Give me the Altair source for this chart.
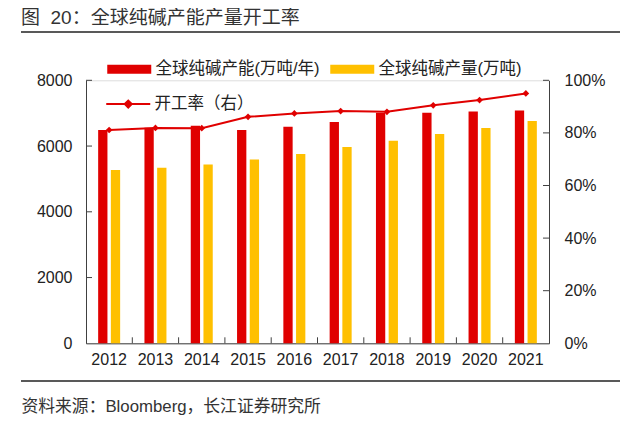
import altair as alt
import pandas as pd

# ---- data ----
years = ["2012", "2013", "2014", "2015", "2016", "2017", "2018", "2019", "2020", "2021"]
capacity = [6490, 6560, 6620, 6490, 6590, 6730, 7010, 7010, 7050, 7080]
production = [5270, 5340, 5440, 5590, 5760, 5970, 6160, 6370, 6550, 6760]
rate = [0.811, 0.819, 0.818, 0.861, 0.874, 0.883, 0.880, 0.905, 0.925, 0.950]
series = ["全球纯碱产能(万吨/年)", "全球纯碱产量(万吨)"]
line_label = "开工率（右）"
left_ticks = [2000, 4000, 6000, 8000]
right_ticks = [0.2, 0.4, 0.6, 0.8, 1.0]
title_text = "图\u00a0\u00a020：全球纯碱产能产量开工率"
source_text = "资料来源：Bloomberg，长江证券研究所"

RED = "#E00000"
YELLOW = "#FFC000"
AXIS = "#404040"
TEXT = "#222222"
FONT = "Liberation Sans, Arial, Noto Sans CJK SC, sans-serif"

W, H = 463, 263

bar_df = pd.DataFrame({
    "year": years * 2,
    "series": [series[0]] * len(years) + [series[1]] * len(years),
    "value": capacity + production,
})
rate_df = pd.DataFrame({"year": years, "rate": rate, "label": [line_label] * len(years)})
lt_df = pd.DataFrame({"value": left_ticks})
rt_df = pd.DataFrame({"rate": right_ticks})
xt_df = pd.DataFrame({"year": years[1:]})
one_df = pd.DataFrame({"k": [0]})

xscale = alt.Scale(domain=years, paddingInner=0, paddingOuter=0)
xaxis = alt.Axis(title=None, ticks=False, tickSize=0, labelPadding=8, labelFontSize=16,
                 labelFont=FONT, labelColor=TEXT, domainColor=AXIS, domainWidth=1,
                 labelAngle=0, grid=False)
left_axis = alt.Axis(orient="left", title=None, values=[0, 2000, 4000, 6000, 8000], format="d",
                     ticks=False, tickSize=0, labelPadding=14, labelFontSize=16, labelFont=FONT,
                     labelColor=TEXT, domainColor=AXIS, grid=False)
right_axis = alt.Axis(orient="right", title=None, values=[0, 0.2, 0.4, 0.6, 0.8, 1.0], format=".0%",
                      ticks=False, tickSize=0, labelPadding=15, labelFontSize=16, labelFont=FONT,
                      labelColor=TEXT, domainColor=AXIS, grid=False)
lscale = alt.Scale(domain=[0, 8000], nice=False)
rscale = alt.Scale(domain=[0, 1], nice=False)

X = alt.X("year:N", scale=xscale, axis=xaxis, sort=years)

bars = alt.Chart(bar_df).mark_bar().encode(
    x=X,
    xOffset=alt.XOffset("series:N", sort=series,
                        scale=alt.Scale(domain=series, paddingInner=0.268, paddingOuter=0.957)),
    y=alt.Y("value:Q", scale=lscale, axis=left_axis),
    fill=alt.Fill("series:N", sort=series, scale=alt.Scale(domain=series, range=[RED, YELLOW]),
                  legend=alt.Legend(title=None, orient="none", legendX=13, legendY=-19.5,
                                    columns=2, columnPadding=2, padding=0,
                                    symbolType="M0,-0.9H8.8V0.9H0Z", symbolSize=100,
                                    symbolStrokeWidth=0, labelOffset=40,
                                    labelFontSize=16.5, labelFont=FONT, labelColor=TEXT,
                                    labelLimit=400)),
)
lticks = alt.Chart(lt_df).mark_rule(color=AXIS, strokeWidth=1).encode(
    y=alt.Y("value:Q", scale=lscale, axis=left_axis),
    x=alt.value(0), x2=alt.value(6),
)
xticks = alt.Chart(xt_df).mark_rule(color=AXIS, strokeWidth=1).encode(
    x=alt.X("year:N", scale=xscale, axis=xaxis, sort=years, bandPosition=0),
    y=alt.value(H), y2=alt.value(H - 6),
)
left = alt.layer(bars, lticks, xticks)

line = alt.Chart(rate_df).mark_line(strokeWidth=2).encode(
    x=X,
    y=alt.Y("rate:Q", scale=rscale, axis=right_axis),
    stroke=alt.Stroke("label:N", scale=alt.Scale(domain=[line_label], range=[RED]),
                      legend=alt.Legend(title=None, orient="none", legendX=12, legendY=15.5,
                                        padding=0,
                                        symbolType="M0,0H8.8M3.7,0L4.4,-0.7L5.1,0L4.4,0.7Z",
                                        symbolSize=100, symbolStrokeWidth=2,
                                        symbolFillColor=RED, labelOffset=40,
                                        labelFontSize=16.5, labelFont=FONT, labelColor=TEXT)),
)
points = alt.Chart(rate_df).mark_point(shape="diamond", filled=True, size=45, color=RED, opacity=1).encode(
    x=X,
    y=alt.Y("rate:Q", scale=rscale, axis=right_axis),
)
rticks = alt.Chart(rt_df).mark_rule(color=AXIS, strokeWidth=1).encode(
    y=alt.Y("rate:Q", scale=rscale, axis=right_axis),
    x=alt.value(W), x2=alt.value(W - 6),
)
right = alt.layer(line, points, rticks)

top_line = alt.Chart(one_df).mark_rule(color=TEXT, strokeWidth=1.7).encode(
    x=alt.value(-65), x2=alt.value(534), y=alt.value(-48.3))
bottom_line = alt.Chart(one_df).mark_rule(color=TEXT, strokeWidth=1.7).encode(
    x=alt.value(-65), x2=alt.value(534), y=alt.value(300.7))
title = alt.Chart(one_df).mark_text(text=title_text, align="left", baseline="middle",
                                    font=FONT, fontSize=19, color="#333333").encode(
    x=alt.value(-65), y=alt.value(-62))
source = alt.Chart(one_df).mark_text(text=source_text, align="left", baseline="middle",
                                     font=FONT, fontSize=16.8, color="#333333").encode(
    x=alt.value(-64.5), y=alt.value(326.7))
deco = alt.layer(top_line, bottom_line, title, source)

chart = alt.layer(left, right, deco).resolve_scale(
    y="independent", fill="independent", stroke="independent"
).properties(
    width=W, height=H,
    autosize=alt.AutoSizeParams(type="none"),
    padding={"left": 78, "top": 72.3, "right": 84, "bottom": 71.7},
).configure_view(stroke=None).configure(background="white")

chart.save("out.html", embed_options={"renderer": "svg", "actions": False})
